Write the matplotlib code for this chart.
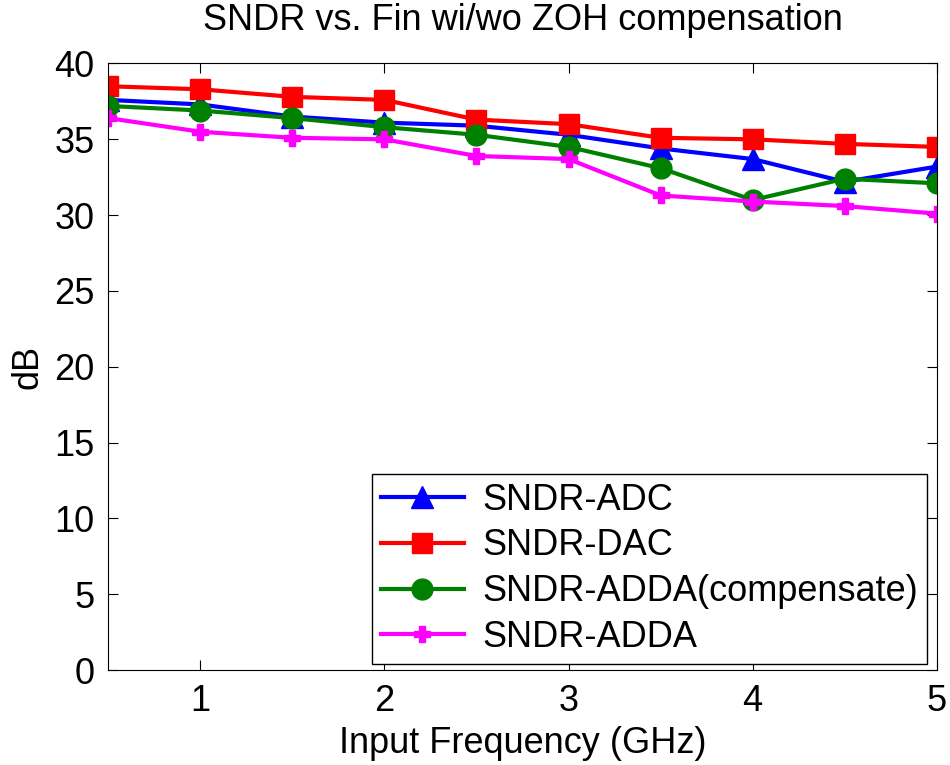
import matplotlib
matplotlib.use("Agg")
import matplotlib.pyplot as plt

plt.rcParams["font.family"] = ["Liberation Sans", "DejaVu Sans"]

fin = [0.5, 1.0, 1.5, 2.0, 2.5, 3.0, 3.5, 4.0, 4.5, 5.0]
sndr_adc = [37.6, 37.3, 36.5, 36.1, 35.9, 35.3, 34.4, 33.7, 32.2, 33.2]
sndr_dac = [38.5, 38.3, 37.8, 37.6, 36.3, 36.0, 35.1, 35.0, 34.7, 34.5]
sndr_adda_comp = [37.2, 36.9, 36.4, 35.8, 35.3, 34.5, 33.1, 31.0, 32.4, 32.1]
sndr_adda = [36.4, 35.5, 35.1, 35.0, 33.9, 33.7, 31.3, 30.9, 30.6, 30.1]

fig = plt.figure(figsize=(9.5, 7.65), dpi=100)
ax = fig.add_axes([0.114, 0.124, 0.872, 0.793])

ax.plot(fin, sndr_adc, color="blue", lw=3, marker="^", ms=16, label="SNDR-ADC")
ax.plot(fin, sndr_dac, color="red", lw=3, marker="s", ms=14, label="SNDR-DAC")
ax.plot(fin, sndr_adda_comp, color="green", lw=3, marker="o", ms=15,
        label="SNDR-ADDA(compensate)")
ax.plot(fin, sndr_adda, color="magenta", lw=3, marker="P", ms=11,
        label="SNDR-ADDA")

ax.set_xlim(0.5, 5)
ax.set_ylim(0, 40)
ax.set_xticks([1, 2, 3, 4, 5])
ax.set_yticks(range(0, 41, 5))
ax.tick_params(direction="in", labelsize=26, length=7, top=True, right=True,
               pad=10)
ax.set_xlabel("Input Frequency (GHz)", fontsize=26, labelpad=5)
ax.set_ylabel("dB", fontsize=26, labelpad=6)
ax.set_title("SNDR vs. Fin wi/wo ZOH compensation", fontsize=26, pad=24)

ax.legend(loc="lower right", fontsize=26, fancybox=False, edgecolor="black",
          framealpha=1, handlelength=2.3, handletextpad=0.5, borderpad=0.25,
          labelspacing=0.3, borderaxespad=0, bbox_to_anchor=(0.988, 0.01))

fig.savefig("out.png", dpi=100)
